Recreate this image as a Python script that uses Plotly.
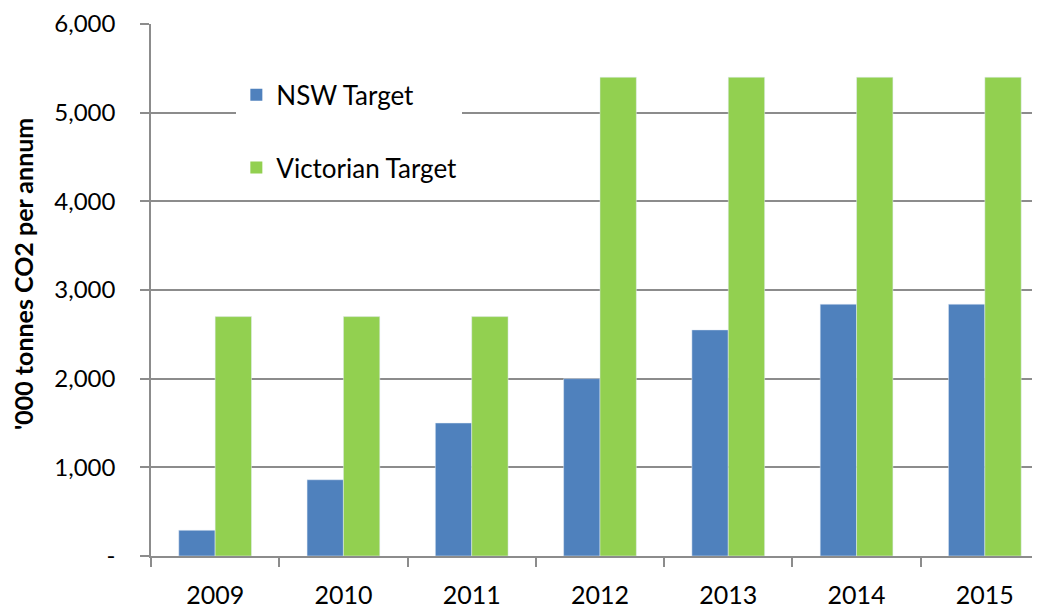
import plotly.graph_objects as go

years = ["2009", "2010", "2011", "2012", "2013", "2014", "2015"]
nsw_target = [290, 860, 1500, 2000, 2550, 2840, 2840]
vic_target = [2700, 2700, 2700, 5400, 5400, 5400, 5400]
y_tick_vals = [0, 1000, 2000, 3000, 4000, 5000, 6000]
y_tick_text = ["-", "1,000", "2,000", "3,000", "4,000", "5,000", "6,000"]
series_names = ["NSW Target", "Victorian Target"]
series_colors = ["#4F81BD", "#92D050"]

FONT = "Lato"
GRID = "#8c8c8c"

fig = go.Figure()
for vals, name, col in zip([nsw_target, vic_target], series_names, series_colors):
    fig.add_trace(go.Bar(x=years, y=vals, name=name, marker=dict(color=col),
                         showlegend=False))
# legend entries with larger square swatches
for i, (name, col) in enumerate(zip(series_names, series_colors)):
    fig.add_trace(go.Scatter(x=[years[0]], y=[None], mode="markers", name=name,
                             marker=dict(symbol="square", size=16, color=col),
                             legendgroup=f"g{i}", showlegend=True))

fig.update_layout(
    width=1032, height=601,
    margin=dict(l=143, r=0, t=15, b=48, pad=0),
    paper_bgcolor="white", plot_bgcolor="white",
    barmode="group", bargap=0.433, bargroupgap=0,
    font=dict(family=FONT, size=26, color="black"),
    showlegend=True,
    legend=dict(x=0.096, y=0.911, xanchor="left", yanchor="top",
                bgcolor="white", borderwidth=0,
                font=dict(family=FONT, size=26, color="black"),
                tracegroupgap=36, itemsizing="constant"),
    xaxis=dict(type="category", range=[-0.5, 6.43],
               showline=True, linecolor=GRID, linewidth=1.5,
               ticks="outside", ticklen=9, tickcolor=GRID, tickwidth=1.5,
               tickson="boundaries", showgrid=False,
               tickfont=dict(family=FONT, size=25), ticklabelstandoff=16),
    yaxis=dict(range=[0, 6000], tickvals=y_tick_vals, ticktext=y_tick_text,
               tickmode="array", ticklabeloverflow="allow",
               showline=True, linecolor=GRID, linewidth=1.5,
               ticks="outside", ticklen=9, tickcolor=GRID, tickwidth=1.5,
               showgrid=True, gridcolor=GRID, gridwidth=1.5, zeroline=False,
               tickfont=dict(family=FONT, size=24), ticklabelstandoff=20),
    annotations=[dict(text="<b>'000 tonnes CO2 per annum</b>", textangle=-90,
                      xref="paper", yref="paper", x=-0.144, y=0.53,
                      xanchor="center", yanchor="middle", showarrow=False,
                      font=dict(family=FONT, size=25, color="black"))],
)

fig.write_html("out.html")
